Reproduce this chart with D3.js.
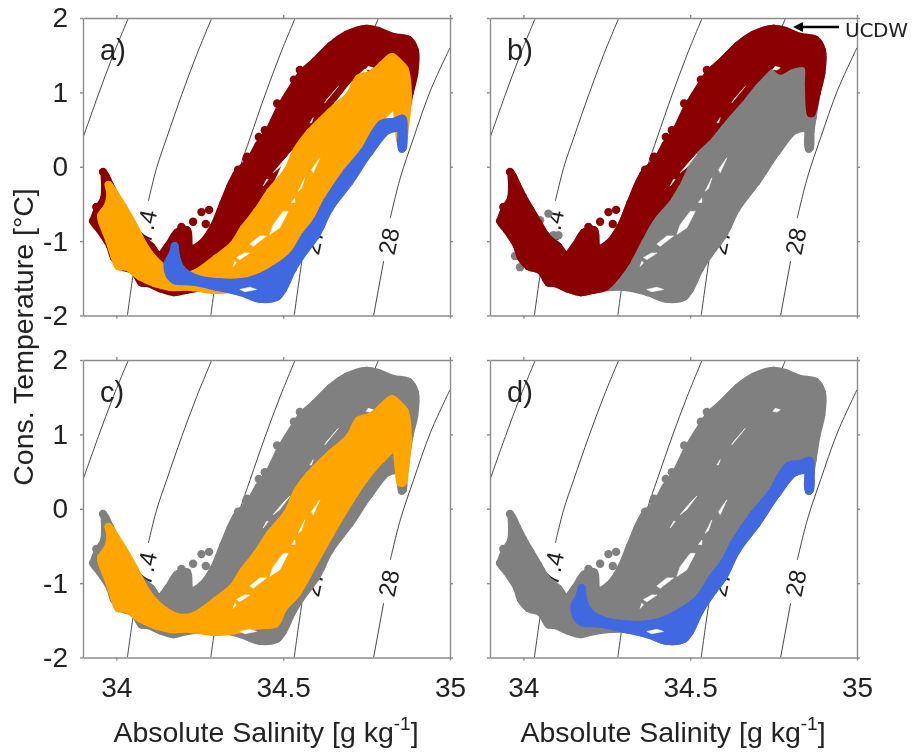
<!DOCTYPE html>
<html><head><meta charset="utf-8">
<style>html,body{margin:0;background:#fff}svg{display:block}text{font-family:"Liberation Sans",Arial,sans-serif;fill:#222}</style>
<script src="https://cdn.jsdelivr.net/npm/d3@7"></script></head><body><svg id="c" width="913" height="756"></svg>
<script>
const xTicks=[34,34.5,35], yTicks=[-2,-1,0,1,2];
const xDomain=[33.9,35], yDomain=[-2,2];
// [Absolute Salinity, Conservative Temperature]
const maroonBand=[[33.965,-0.10],[33.982,-0.25],[34.0,-0.41],[34.022,-0.58],[34.046,-0.76],[34.072,-0.95],[34.105,-1.07],[34.128,-1.19],[34.155,-1.06],[34.182,-0.88],[34.212,-0.85],[34.222,-1.10],[34.255,-1.03],[34.29,-0.81],[34.32,-0.49],[34.358,-0.11],[34.40,0.09],[34.425,0.29],[34.455,0.47],[34.49,0.79],[34.535,1.12],[34.56,1.28],[34.595,1.42],[34.642,1.63],[34.69,1.78],[34.75,1.86],[34.785,1.83],[34.83,1.75],[34.876,1.71],[34.896,1.56],[34.894,1.26],[34.88,0.99],[34.865,0.72],[34.86,0.72],[34.855,1.08],[34.85,1.37],[34.80,1.36],[34.77,1.29],[34.748,1.37],[34.702,1.20],[34.652,0.93],[34.592,0.62],[34.552,0.40],[34.502,0.17],[34.46,-0.20],[34.432,-0.41],[34.382,-0.68],[34.352,-0.91],[34.31,-1.27],[34.28,-1.46],[34.245,-1.62],[34.21,-1.66],[34.172,-1.69],[34.132,-1.64],[34.095,-1.57],[34.075,-1.56],[34.052,-1.40],[34.015,-1.34],[33.992,-1.22],[33.98,-1.06],[33.95,-0.85],[33.932,-0.74],[33.945,-0.56],[33.962,-0.43],[33.965,-0.25]];
const maroonStray=[[34.55,1.30],[34.532,1.17],[34.482,0.85],[34.445,0.49],[34.427,0.40],[34.392,0.135],[34.365,-0.04],[34.39,0.11],[34.342,-0.27],[34.377,-0.09],[34.255,-0.61],[34.278,-0.58],[34.268,-0.77],[34.23,-0.74],[34.195,-0.81],[34.21,-0.95],[34.19,-0.93],[34.2,-0.87],[34.178,-1.0],[34.167,-1.08],[33.94,-0.54],[33.93,-0.73],[33.96,-0.07]];
const orangeBand=[[33.976,-0.24],[33.991,-0.33],[34.021,-0.54],[34.055,-0.81],[34.081,-1.04],[34.111,-1.23],[34.146,-1.37],[34.191,-1.46],[34.236,-1.43],[34.299,-1.23],[34.349,-1.05],[34.381,-0.83],[34.421,-0.60],[34.461,-0.33],[34.511,-0.06],[34.541,0.23],[34.579,0.46],[34.639,0.73],[34.699,0.97],[34.726,1.19],[34.766,1.25],[34.796,1.37],[34.826,1.48],[34.843,1.42],[34.865,1.31],[34.875,0.97],[34.867,0.57],[34.859,0.35],[34.851,0.35],[34.846,0.50],[34.833,0.80],[34.796,0.67],[34.743,0.39],[34.703,0.12],[34.643,-0.33],[34.593,-0.73],[34.543,-1.13],[34.501,-1.34],[34.476,-1.55],[34.431,-1.57],[34.351,-1.64],[34.291,-1.66],[34.221,-1.62],[34.161,-1.62],[34.116,-1.57],[34.071,-1.48],[34.031,-1.35],[34.006,-1.34],[33.993,-1.20],[33.977,-0.98],[33.957,-0.75],[33.953,-0.66],[33.973,-0.53],[33.981,-0.37]];
const blueBand=[[34.175,-1.06],[34.18,-1.21],[34.195,-1.37],[34.24,-1.50],[34.31,-1.55],[34.37,-1.55],[34.43,-1.48],[34.475,-1.37],[34.528,-1.19],[34.565,-0.93],[34.60,-0.73],[34.63,-0.47],[34.69,-0.07],[34.74,0.20],[34.795,0.58],[34.832,0.61],[34.858,0.65],[34.862,0.48],[34.86,0.26],[34.855,0.24],[34.852,0.32],[34.85,0.50],[34.815,0.49],[34.76,0.20],[34.70,-0.20],[34.64,-0.56],[34.60,-0.92],[34.57,-1.10],[34.53,-1.37],[34.50,-1.65],[34.482,-1.75],[34.43,-1.78],[34.372,-1.69],[34.302,-1.62],[34.232,-1.55],[34.175,-1.53],[34.158,-1.45],[34.153,-1.30],[34.168,-1.17]];
const grayBand=[[33.965,-0.10],[33.982,-0.25],[34.0,-0.41],[34.022,-0.58],[34.046,-0.76],[34.072,-0.95],[34.105,-1.07],[34.128,-1.19],[34.155,-1.06],[34.182,-0.88],[34.212,-0.85],[34.222,-1.10],[34.255,-1.03],[34.29,-0.81],[34.32,-0.49],[34.358,-0.11],[34.40,0.09],[34.425,0.29],[34.455,0.47],[34.49,0.79],[34.535,1.12],[34.56,1.28],[34.595,1.42],[34.642,1.63],[34.69,1.78],[34.75,1.86],[34.785,1.83],[34.83,1.75],[34.876,1.71],[34.896,1.56],[34.894,1.26],[34.88,0.99],[34.868,0.66],[34.862,0.48],[34.86,0.26],[34.855,0.24],[34.852,0.32],[34.85,0.50],[34.815,0.49],[34.76,0.20],[34.70,-0.20],[34.64,-0.56],[34.60,-0.92],[34.57,-1.10],[34.53,-1.37],[34.50,-1.65],[34.482,-1.75],[34.43,-1.78],[34.372,-1.69],[34.302,-1.62],[34.21,-1.65],[34.172,-1.69],[34.132,-1.64],[34.095,-1.57],[34.075,-1.56],[34.052,-1.40],[34.015,-1.34],[33.992,-1.22],[33.98,-1.06],[33.95,-0.85],[33.932,-0.74],[33.945,-0.56],[33.962,-0.43],[33.965,-0.25]];
const grayStrayB=[[34.075,-0.63],[34.05,-0.72],[34.09,-0.92],[34.105,-0.92],[33.99,-1.35],[33.975,-1.2]];
const gaps=[
 [[34.515,-0.60],[34.49,-0.82],[34.46,-0.91],[34.47,-0.78],[34.50,-0.60]],
 [[34.45,-0.93],[34.41,-1.07],[34.40,-1.04],[34.43,-0.93]],
 [[34.40,-1.16],[34.37,-1.25],[34.36,-1.22],[34.385,-1.16]],
 [[34.42,-1.65],[34.385,-1.68],[34.37,-1.65],[34.40,-1.62]],
 [[34.755,1.35],[34.77,1.33],[34.76,1.30],[34.748,1.31]],
 [[34.52,0.17],[34.49,-0.01],[34.47,-0.08],[34.50,0.08]],
 [[34.61,0.12],[34.59,-0.08],[34.585,-0.04]],
 [[34.455,-0.17],[34.44,-0.26],[34.45,-0.17]],
 [[34.565,-0.15],[34.545,-0.33],[34.555,-0.29]],
 [[34.535,-0.42],[34.525,-0.48],[34.535,-0.48]],
 [[34.665,1.08],[34.625,0.86],[34.63,0.90]],
 [[34.59,0.66],[34.58,0.59],[34.585,0.59]],
 [[34.36,-1.29],[34.35,-1.34],[34.355,-1.27]]
];
const iso272=[[34.036,2.0],[33.991,1.51],[33.946,0.97],[33.90,0.39]];
const iso274a=[[34.286,2.0],[34.241,1.51],[34.196,0.97],[34.151,0.39],[34.121,-0.01],[34.096,-0.46]];
const iso274b=[[34.056,-1.27],[34.046,-1.58],[34.033,-2.0]];
const iso276=[[34.536,2.0],[34.491,1.51],[34.446,0.97],[34.401,0.39],[34.371,-0.01],[34.346,-0.46],[34.326,-0.82],[34.306,-1.27],[34.296,-1.58],[34.283,-2.0]];
const iso278a=[[34.786,2.0],[34.741,1.51],[34.696,0.97],[34.651,0.39],[34.621,-0.01],[34.596,-0.46]];
const iso278b=[[34.556,-1.27],[34.546,-1.58],[34.533,-2.0]];
const iso280a=[[35.0,1.60],[34.941,1.02],[34.891,0.39],[34.851,-0.15],[34.821,-0.69]];
const iso280b=[[34.801,-1.27],[34.771,-2.0]];
const isoLabels=[{t:"27.4",s:34.083,T:-0.89},{t:"27.8",s:34.596,T:-0.87},{t:"28",s:34.816,T:-1.0}];

const MAROON="#8b0000",ORANGE="#ffa500",BLUE="#4169e1",GRAY="#808080";
const panels=[
 {tag:"a)",x:83,y:18,layers:[[maroonBand,maroonStray,MAROON],[orangeBand,[],ORANGE],[blueBand,[],BLUE]],yl:true,xl:false},
 {tag:"b)",x:490,y:18,layers:[[grayBand,grayStrayB,GRAY],[maroonBand,maroonStray,MAROON]],yl:false,xl:false},
 {tag:"c)",x:83,y:360,layers:[[grayBand,maroonStray,GRAY],[orangeBand,[],ORANGE]],yl:true,xl:true},
 {tag:"d)",x:490,y:360,layers:[[grayBand,maroonStray,GRAY],[blueBand,[],BLUE]],yl:false,xl:true}
];
const W=367,H=297.5,R=3.7,DOT=4.2;
const svg=d3.select("#c");
const defs=svg.append("defs");
defs.append("filter").attr("id","soft").append("feGaussianBlur").attr("stdDeviation",0.55);
defs.append("clipPath").attr("id","box").append("rect").attr("width",W).attr("height",H);
const root=svg.append("g").attr("filter","url(#soft)");
const x=d3.scaleLinear().domain(xDomain).range([0,W]);
const y=d3.scaleLinear().domain(yDomain).range([H,0]);
const poly=d3.line().x(d=>x(d[0])).y(d=>y(d[1])).curve(d3.curveCatmullRomClosed.alpha(0.5));
const hole=d3.line().x(d=>x(d[0])).y(d=>y(d[1]));
const isoLines=[iso272,iso274a,iso274b,iso276,iso278a,iso278b,iso280a,iso280b];

panels.forEach(p=>{
 const g=root.append("g").attr("transform",`translate(${p.x},${p.y})`);
 const cg=g.append("g").attr("clip-path","url(#box)");
 cg.selectAll("path.iso").data(isoLines).join("path").attr("class","iso")
  .attr("d",d=>d3.line().x(q=>x(q[0])).y(q=>y(q[1])).curve(d3.curveCatmullRom)(d))
  .attr("fill","none").attr("stroke","#333").attr("stroke-width",0.9);
 g.selectAll("text.iso").data(isoLabels).join("text").attr("class","iso")
  .attr("transform",d=>`translate(${x(d.s)},${y(d.T)}) rotate(-78)`)
  .attr("text-anchor","middle").attr("dy","0.36em").attr("font-size",24).text(d=>d.t);
 p.layers.forEach(([band,stray,col])=>{
  g.append("path").attr("d",poly(band)).attr("fill",col).attr("stroke",col)
   .attr("stroke-width",2*R).attr("stroke-linejoin","round");
  g.append("g").selectAll("circle.edge").data(band).join("circle").attr("class","edge")
   .attr("cx",d=>x(d[0])).attr("cy",d=>y(d[1])).attr("r",R).attr("fill",col);
  g.append("g").selectAll("circle.dot").data(stray).join("circle").attr("class","dot")
   .attr("cx",d=>x(d[0])).attr("cy",d=>y(d[1])).attr("r",DOT).attr("fill",col);
 });
 g.selectAll("path.gap").data(gaps).join("path").attr("class","gap")
  .attr("d",d=>hole(d)+"Z").attr("fill","#fff").attr("stroke","#fff").attr("stroke-width",0.6);
 const fmt=d=>String(d);
 const axes=[
  [d3.axisBottom(x).tickValues(xTicks).tickSize(3).tickSizeOuter(0).tickPadding(17).tickFormat(p.xl?fmt:""),0,H],
  [d3.axisTop(x).tickValues(xTicks).tickSize(3).tickSizeOuter(0).tickFormat(""),0,0],
  [d3.axisLeft(y).tickValues(yTicks).tickSize(3).tickSizeOuter(0).tickPadding(12).tickFormat(p.yl?fmt:""),0,0],
  [d3.axisRight(y).tickValues(yTicks).tickSize(3).tickSizeOuter(0).tickFormat(""),W,0]
 ];
 axes.forEach(([ax,tx,ty])=>{
  const a=g.append("g").attr("transform",`translate(${tx},${ty})`).call(ax);
  a.selectAll("path,line").attr("stroke","#8c8c8c").attr("stroke-width",1.4);
  a.selectAll("text").attr("font-size",28).attr("fill","#222").attr("font-family",'"Liberation Sans",Arial,sans-serif');
 });
 g.append("text").attr("x",17).attr("y",42).attr("font-size",29).text(p.tag);
 if(p.xl){
  const t=g.append("text").attr("x",183).attr("y",382).attr("text-anchor","middle").attr("font-size",28.5);
  t.append("tspan").text("Absolute Salinity [g kg");
  t.append("tspan").attr("dy",-12).attr("font-size",19).text("-1");
  t.append("tspan").attr("dy",12).text("]");
 }
});
root.append("text").attr("transform","translate(33,337) rotate(-90)").attr("text-anchor","middle")
 .attr("font-size",28.5).text("Cons. Temperature [°C]");
// UCDW annotation
root.append("line").attr("x1",839).attr("y1",27).attr("x2",800).attr("y2",27).attr("stroke","#000").attr("stroke-width",2.4);
root.append("path").attr("d","M793,27L803,22L803,32Z").attr("fill","#000");
root.append("text").attr("x",845).attr("y",37).attr("font-size",20)
 .style("font-family",'"DejaVu Sans",sans-serif').attr("textLength",63).text("UCDW");
</script></body></html>
